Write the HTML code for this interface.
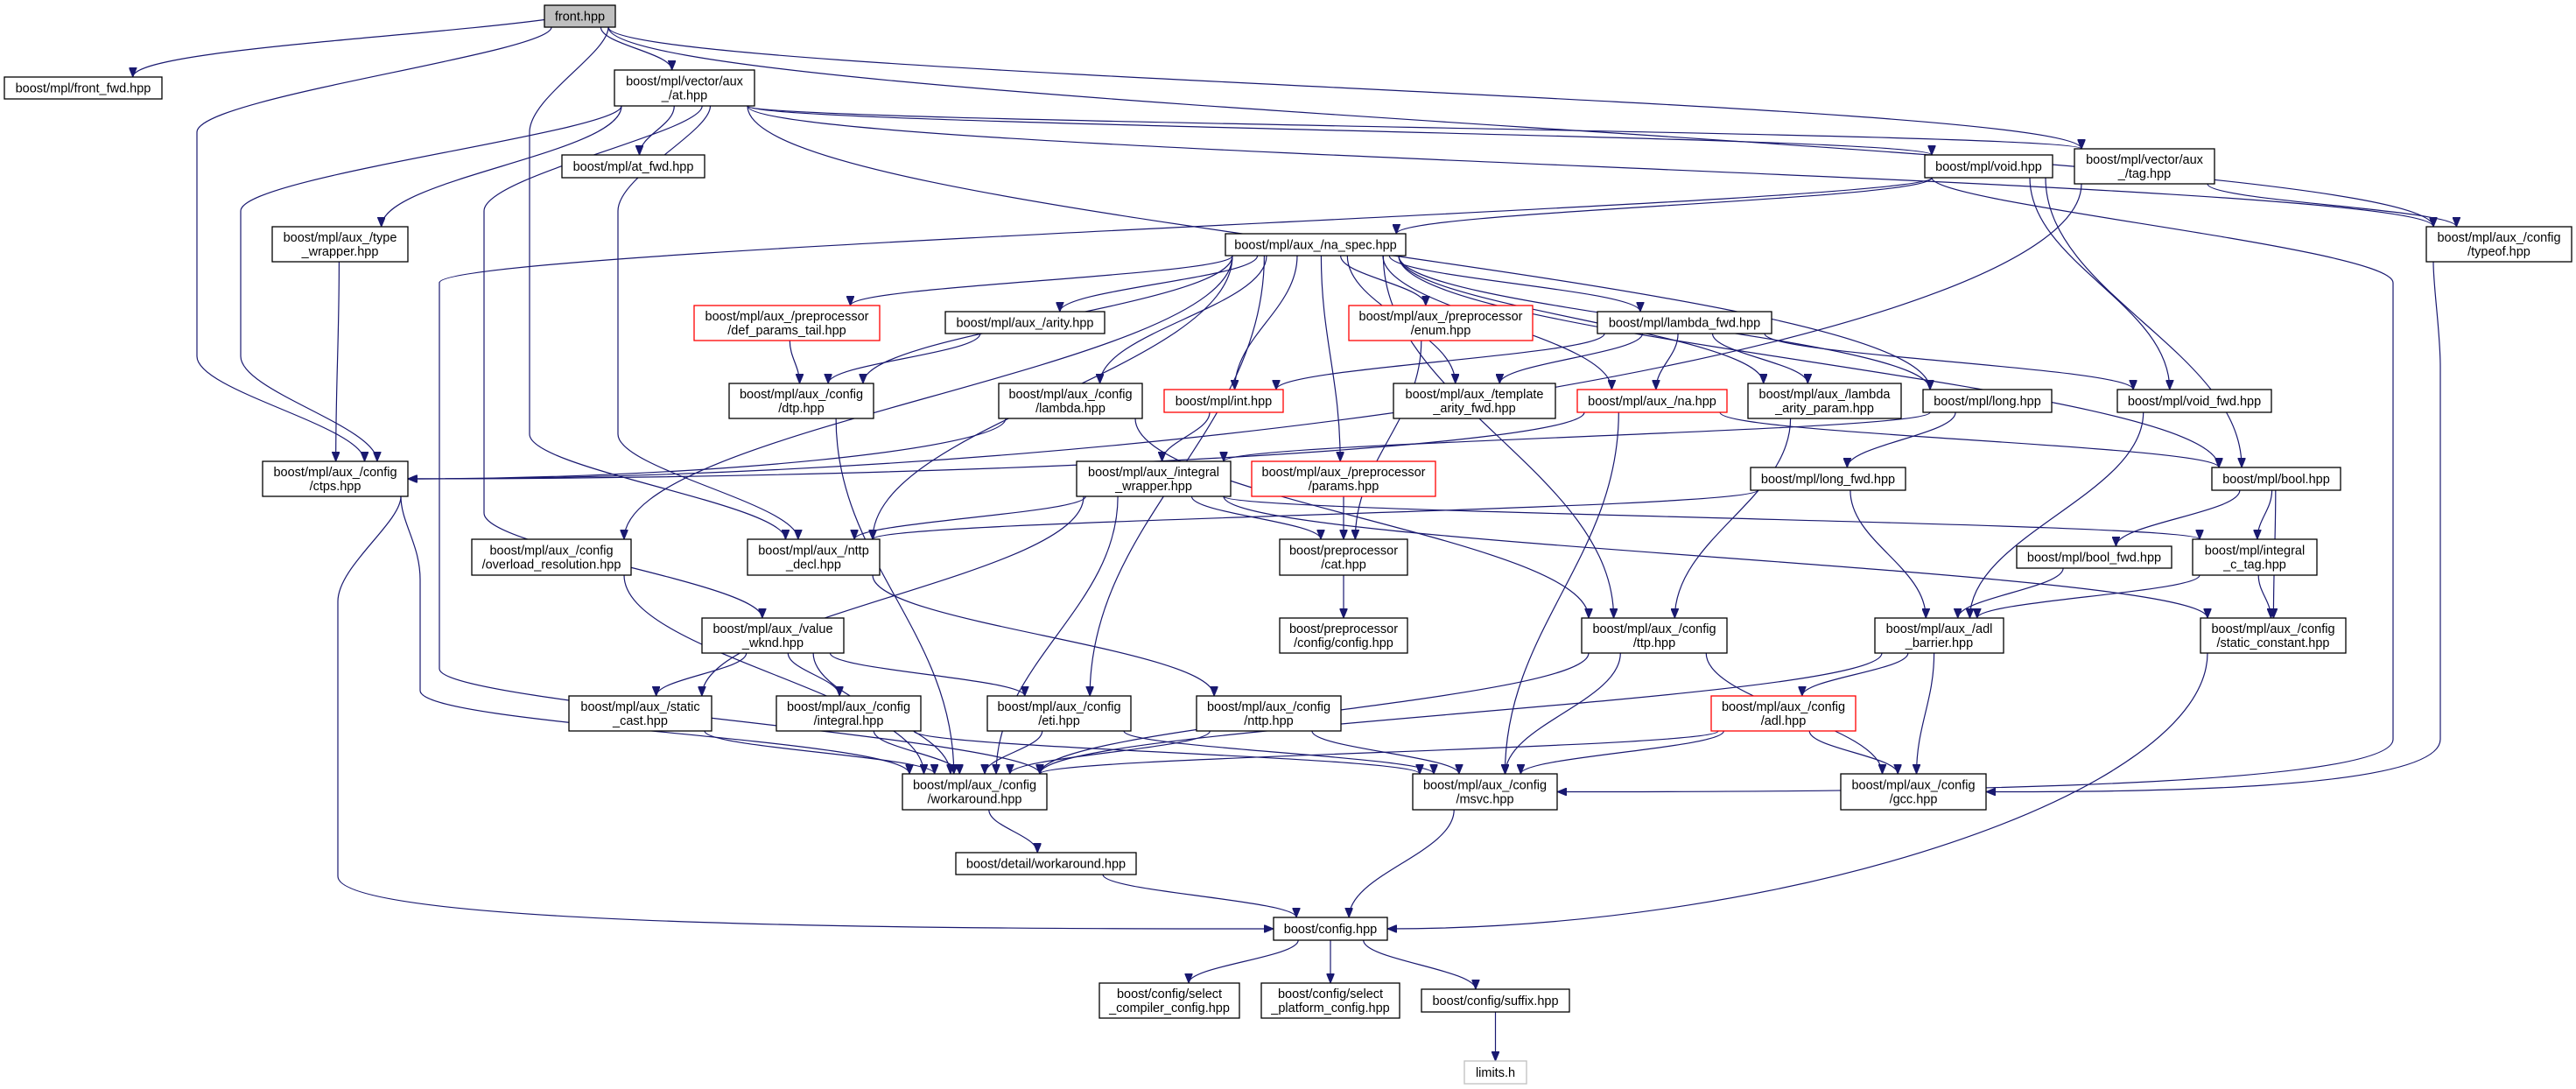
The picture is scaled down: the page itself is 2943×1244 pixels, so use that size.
<!DOCTYPE html>
<html><head><meta charset="utf-8"><style>
html,body{margin:0;padding:0;background:#fff;}
svg{display:block;}
text{font-family:"Liberation Sans",sans-serif;font-size:14.5px;fill:#000;text-anchor:middle;}
</style></head><body>
<svg id="g" width="2943" height="1244" viewBox="0 0 2943 1244" xmlns="http://www.w3.org/2000/svg">
<defs><marker id="ah" markerUnits="userSpaceOnUse" markerWidth="11" markerHeight="9" refX="11" refY="4.5" orient="auto"><path d="M0,0 L11,4.5 L0,9 z" fill="#191970" stroke="#191970"/></marker></defs>
<g id="edges"></g>
<g id="nodes">
<g id="front"><text>front.hpp</text></g>
<g id="front_fwd"><text>boost/mpl/front_fwd.hpp</text></g>
<g id="at"><text>boost/mpl/vector/aux</text><text>_/at.hpp</text></g>
<g id="at_fwd"><text>boost/mpl/at_fwd.hpp</text></g>
<g id="type_wrapper"><text>boost/mpl/aux_/type</text><text>_wrapper.hpp</text></g>
<g id="def_params_tail"><text>boost/mpl/aux_/preprocessor</text><text>/def_params_tail.hpp</text></g>
<g id="na_spec"><text>boost/mpl/aux_/na_spec.hpp</text></g>
<g id="arity"><text>boost/mpl/aux_/arity.hpp</text></g>
<g id="enum"><text>boost/mpl/aux_/preprocessor</text><text>/enum.hpp</text></g>
<g id="lambda_fwd"><text>boost/mpl/lambda_fwd.hpp</text></g>
<g id="void"><text>boost/mpl/void.hpp</text></g>
<g id="tag"><text>boost/mpl/vector/aux</text><text>_/tag.hpp</text></g>
<g id="typeof"><text>boost/mpl/aux_/config</text><text>/typeof.hpp</text></g>
<g id="dtp"><text>boost/mpl/aux_/config</text><text>/dtp.hpp</text></g>
<g id="ctps"><text>boost/mpl/aux_/config</text><text>/ctps.hpp</text></g>
<g id="overload"><text>boost/mpl/aux_/config</text><text>/overload_resolution.hpp</text></g>
<g id="nttp_decl"><text>boost/mpl/aux_/nttp</text><text>_decl.hpp</text></g>
<g id="value_wknd"><text>boost/mpl/aux_/value</text><text>_wknd.hpp</text></g>
<g id="static_cast"><text>boost/mpl/aux_/static</text><text>_cast.hpp</text></g>
<g id="integral"><text>boost/mpl/aux_/config</text><text>/integral.hpp</text></g>
<g id="lambda"><text>boost/mpl/aux_/config</text><text>/lambda.hpp</text></g>
<g id="int"><text>boost/mpl/int.hpp</text></g>
<g id="template_arity"><text>boost/mpl/aux_/template</text><text>_arity_fwd.hpp</text></g>
<g id="na"><text>boost/mpl/aux_/na.hpp</text></g>
<g id="integral_wrapper"><text>boost/mpl/aux_/integral</text><text>_wrapper.hpp</text></g>
<g id="params"><text>boost/mpl/aux_/preprocessor</text><text>/params.hpp</text></g>
<g id="cat"><text>boost/preprocessor</text><text>/cat.hpp</text></g>
<g id="ppconfig"><text>boost/preprocessor</text><text>/config/config.hpp</text></g>
<g id="ttp"><text>boost/mpl/aux_/config</text><text>/ttp.hpp</text></g>
<g id="eti"><text>boost/mpl/aux_/config</text><text>/eti.hpp</text></g>
<g id="nttp"><text>boost/mpl/aux_/config</text><text>/nttp.hpp</text></g>
<g id="adl"><text>boost/mpl/aux_/config</text><text>/adl.hpp</text></g>
<g id="lambda_arity_param"><text>boost/mpl/aux_/lambda</text><text>_arity_param.hpp</text></g>
<g id="long"><text>boost/mpl/long.hpp</text></g>
<g id="void_fwd"><text>boost/mpl/void_fwd.hpp</text></g>
<g id="long_fwd"><text>boost/mpl/long_fwd.hpp</text></g>
<g id="bool"><text>boost/mpl/bool.hpp</text></g>
<g id="bool_fwd"><text>boost/mpl/bool_fwd.hpp</text></g>
<g id="ictag"><text>boost/mpl/integral</text><text>_c_tag.hpp</text></g>
<g id="adl_barrier"><text>boost/mpl/aux_/adl</text><text>_barrier.hpp</text></g>
<g id="static_constant"><text>boost/mpl/aux_/config</text><text>/static_constant.hpp</text></g>
<g id="workaround"><text>boost/mpl/aux_/config</text><text>/workaround.hpp</text></g>
<g id="msvc"><text>boost/mpl/aux_/config</text><text>/msvc.hpp</text></g>
<g id="gcc"><text>boost/mpl/aux_/config</text><text>/gcc.hpp</text></g>
<g id="detail"><text>boost/detail/workaround.hpp</text></g>
<g id="config"><text>boost/config.hpp</text></g>
<g id="selcomp"><text>boost/config/select</text><text>_compiler_config.hpp</text></g>
<g id="selplat"><text>boost/config/select</text><text>_platform_config.hpp</text></g>
<g id="suffix"><text>boost/config/suffix.hpp</text></g>
<g id="limits"><text>limits.h</text></g>
</g>
</svg>
<script>
var N={
front:[622,6,703,31,'g'],front_fwd:[5,88,185,113],at:[702,80,862,121],at_fwd:[642,177,805,203],
type_wrapper:[311,259,466,299],def_params_tail:[793,349,1005,389,'r'],na_spec:[1400,267,1606,292],
arity:[1080,356,1262,381],enum:[1541,349,1751,389,'r'],lambda_fwd:[1825,356,2024,381],
void:[2199,177,2345,203],tag:[2370,170,2530,210],typeof:[2772,259,2938,299],dtp:[833,438,998,478],
ctps:[300,527,466,567],overload:[539,616,721,657],nttp_decl:[854,616,1005,657],value_wknd:[802,706,964,746],
static_cast:[650,795,813,835],integral:[887,795,1052,835],lambda:[1141,438,1305,478],int:[1330,445,1466,471,'r'],
template_arity:[1592,438,1777,478],na:[1802,445,1973,471,'r'],integral_wrapper:[1230,527,1406,567],
params:[1430,527,1640,567,'r'],cat:[1462,616,1608,657],ppconfig:[1462,706,1608,746],ttp:[1807,706,1973,746],
eti:[1128,795,1292,835],nttp:[1367,795,1532,835],adl:[1955,795,2120,835,'r'],
lambda_arity_param:[1997,438,2172,478],long:[2197,445,2344,471],void_fwd:[2419,445,2595,471],
long_fwd:[2000,534,2177,560],bool:[2527,534,2674,560],bool_fwd:[2304,624,2481,649],ictag:[2505,616,2647,657],
adl_barrier:[2142,706,2289,746],static_constant:[2514,706,2680,746],workaround:[1031,884,1196,925],
msvc:[1614,884,1779,925],gcc:[2103,884,2269,925],detail:[1092,974,1298,999],config:[1455,1048,1585,1074],
selcomp:[1256,1123,1416,1163],selplat:[1441,1123,1599,1163],suffix:[1624,1130,1793,1156],limits:[1673,1212,1744,1238,'l']
};
var E=[
['front','front_fwd',{side:'T'}],['front','at'],['front','ctps',{via:225}],['front','nttp_decl',{via:605}],['front','tag'],['front','typeof'],
['at','at_fwd'],['at','type_wrapper'],['at','ctps',{via:275}],['at','value_wknd',{via:553}],['at','nttp_decl',{via:706}],
['at','void'],['at','tag'],['at','typeof'],['at','long'],
['type_wrapper','ctps'],['ctps','workaround',{via:480}],['ctps','config',{via:386,side:'L'}],
['void','workaround',{via:502}],['void','na_spec'],['void','void_fwd'],['void','bool'],['void','msvc',{via:2734,side:'R'}],
['tag','typeof'],['tag','ctps',{side:'R'}],['typeof','gcc',{via:2788,side:'R'}],
['na_spec','def_params_tail'],['na_spec','arity'],['na_spec','enum'],['na_spec','lambda_fwd'],['na_spec','dtp'],
['na_spec','lambda'],['na_spec','int'],['na_spec','template_arity'],['na_spec','na'],['na_spec','lambda_arity_param'],
['na_spec','nttp_decl'],['na_spec','overload'],['na_spec','params'],['na_spec','ttp'],['na_spec','eti'],['na_spec','bool'],['na_spec','long'],
['def_params_tail','dtp'],['arity','dtp'],['dtp','workaround'],['enum','cat'],
['lambda_fwd','int'],['lambda_fwd','template_arity'],['lambda_fwd','na'],['lambda_fwd','lambda_arity_param'],['lambda_fwd','void_fwd'],
['lambda','ctps',{side:'R'}],['lambda','ttp'],['int','integral_wrapper'],['na','ctps',{side:'R'}],['na','bool'],['na','msvc'],
['lambda_arity_param','ttp'],['long','long_fwd'],['long','integral_wrapper'],['void_fwd','adl_barrier'],
['integral_wrapper','nttp_decl'],['integral_wrapper','static_cast'],['integral_wrapper','cat'],['integral_wrapper','workaround'],
['integral_wrapper','ictag'],['integral_wrapper','static_constant'],['params','cat'],['cat','ppconfig'],
['long_fwd','nttp_decl'],['long_fwd','adl_barrier'],['bool','bool_fwd'],['bool','ictag'],['bool','static_constant'],
['bool_fwd','adl_barrier'],['ictag','adl_barrier'],['ictag','static_constant'],['nttp_decl','nttp'],['overload','workaround'],
['value_wknd','static_cast'],['value_wknd','integral'],['value_wknd','eti'],['value_wknd','workaround'],
['static_cast','workaround'],['integral','workaround'],['integral','msvc'],['eti','workaround'],['eti','msvc'],
['nttp','workaround'],['nttp','msvc'],['ttp','workaround'],['ttp','msvc'],['ttp','gcc'],
['adl_barrier','adl'],['adl_barrier','gcc'],['adl_barrier','workaround'],['adl','workaround'],['adl','msvc'],['adl','gcc'],
['static_constant','config',{side:'R'}],['workaround','detail'],['detail','config'],['msvc','config'],
['config','selcomp'],['config','selplat'],['config','suffix'],['suffix','limits']
];
var NS='http://www.w3.org/2000/svg';
function cl(v,a,b){return Math.max(a,Math.min(b,v));}
var eg=document.getElementById('edges'),d='';
E.forEach(function(e){
 var S=N[e[0]],T=N[e[1]],o=e[2]||{};
 var scx=(S[0]+S[2])/2,tcx=(T[0]+T[2])/2,tcy=(T[1]+T[3])/2;
 var sx=cl(scx+(tcx-scx)*0.2,S[0]+8,S[2]-8),sy=S[3],ex,ey;
 if(o.side==='R'){ex=T[2];ey=tcy;}
 else if(o.side==='L'){ex=T[0];ey=tcy;}
 else if(o.side==='T'){ex=cl(tcx+(scx-tcx)*0.1,T[0]+8,T[2]-8);ey=T[1];sx=S[0];sy=(S[1]+S[3])/2+4;}
 else {ex=cl(tcx+(scx-tcx)*0.12,T[0]+8,T[2]-8);ey=T[1];}
 if(!o.side && ey<sy+4){ // target beside
   sy=S[3];
 }
 var p;
 if(o.via!==undefined){
   var v=o.via,dy=ey-sy;
   var y1=sy+Math.min(120,dy*0.3),y2=ey-Math.min(120,dy*0.3);
   if(o.side==='R'||o.side==='L'){y2=ey-60;}
   p='M'+sx+','+sy+' C'+sx+','+(sy+30)+' '+v+','+(y1-40)+' '+v+','+y1+' L'+v+','+y2;
   if(o.side==='R'||o.side==='L') p+=' C'+v+','+(ey)+' '+(ex+(v-ex)*0.3)+','+ey+' '+ex+','+ey;
   else p+=' C'+v+','+(y2+40)+' '+ex+','+(ey-40)+' '+ex+','+ey;
 } else if(o.side==='R'||o.side==='L'){
   p='M'+sx+','+sy+' C'+sx+','+(sy+(ey-sy)*0.5)+' '+(ex+(sx-ex)*0.5)+','+ey+' '+ex+','+ey;
 } else if(o.side==='T'){
   p='M'+sx+','+sy+' C'+(sx-150)+','+(sy+20)+' '+ex+','+(ey-30)+' '+ex+','+ey;
 } else {
   var dy=ey-sy;
   p='M'+sx+','+sy+' C'+sx+','+(sy+dy*0.4)+' '+ex+','+(ey-dy*0.4)+' '+ex+','+ey;
 }
 d+='<path d="'+p+'" fill="none" stroke="#191970" stroke-width="1.2" marker-end="url(#ah)"/>';
});
eg.innerHTML=d;
Object.keys(N).forEach(function(k){
 var n=N[k],g=document.getElementById(k);if(!g)return;
 var r=document.createElementNS(NS,'rect');
 r.setAttribute('x',n[0]);r.setAttribute('y',n[1]);r.setAttribute('width',n[2]-n[0]);r.setAttribute('height',n[3]-n[1]);
 r.setAttribute('fill',n[4]==='g'?'#bfbfbf':'#fff');
 r.setAttribute('stroke',n[4]==='r'?'#ff0000':(n[4]==='l'?'#bfbfbf':'#000'));
 r.setAttribute('stroke-width','1.3');
 g.insertBefore(r,g.firstChild);
 var ts=g.getElementsByTagName('text'),cx=(n[0]+n[2])/2,cy=(n[1]+n[3])/2;
 if(ts.length===1){ts[0].setAttribute('x',cx);ts[0].setAttribute('y',cy+5);}
 else{ts[0].setAttribute('x',cx);ts[0].setAttribute('y',cy-3);ts[1].setAttribute('x',cx);ts[1].setAttribute('y',cy+13);}
});
</script>
</body></html>
